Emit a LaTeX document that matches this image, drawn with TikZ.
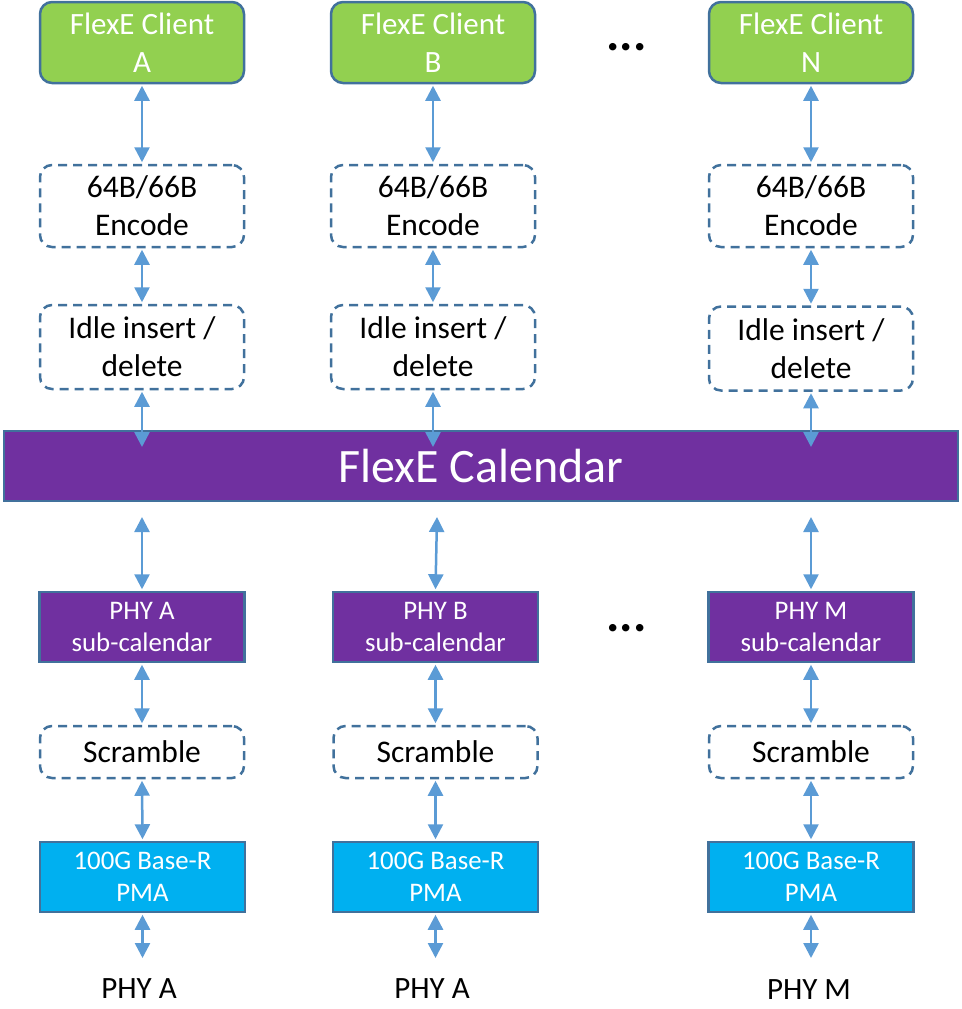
\documentclass[tikz,border=0pt]{standalone}
\usepackage{fontspec}
\setmainfont{Carlito}
\usetikzlibrary{arrows.meta}
\definecolor{cgreen}{HTML}{92D050}
\definecolor{cborder}{HTML}{41719C}
\definecolor{cpurple}{HTML}{7030A0}
\definecolor{ccyan}{HTML}{00B0F0}
\definecolor{carrow}{HTML}{5B9BD5}
\begin{document}
\begin{tikzpicture}[x=1pt,y=-1pt,
  clientbox/.style={draw=cborder,line width=2.5pt,fill=cgreen,rounded corners=12pt,minimum width=204pt,minimum height=81pt,inner sep=0pt,align=center,text=white,font=\fontsize{31}{38}\selectfont},
  dashbox/.style={draw=cborder,line width=2.5pt,dash pattern=on 9pt off 6pt,rounded corners=12pt,minimum width=204pt,inner sep=0pt,align=center,text=black,font=\fontsize{31.5}{38}\selectfont},
  subbox/.style={draw=cborder,line width=2.5pt,fill=cpurple,minimum width=205pt,minimum height=70pt,inner sep=0pt,align=center,text=white,font=\fontsize{26.8}{32}\selectfont},
  pmabox/.style={draw=cborder,line width=2.5pt,fill=ccyan,minimum width=205pt,minimum height=70pt,inner sep=0pt,align=center,text=white,font=\fontsize{26.8}{32}\selectfont},
  calbox/.style={draw=cborder,line width=2.5pt,fill=cpurple,minimum width=954pt,minimum height=70pt,inner sep=0pt,text=white,font=\fontsize{48}{52}\selectfont},
  lbl/.style={inner sep=0pt,text=black,font=\fontsize{31}{38}\selectfont},
  dotsl/.style={inner sep=0pt,text=black,font=\fontsize{50}{50}\selectfont\bfseries},
  biarrow/.style={draw=carrow,line width=2.5pt,{Triangle[width=15pt,length=15pt]}-{Triangle[width=15pt,length=15pt]}}
]
\useasboundingbox (0,0) rectangle (961,1009);

% top row
\node[clientbox] (cA) at (142,42.5) {FlexE Client\\A};
\node[clientbox] (cB) at (433,42.5) {FlexE Client\\B};
\node[clientbox] (cN) at (811,42.5) {FlexE Client\\N};
\node[dotsl] (d1) at (626.5,47) {...};

\node[dashbox,minimum height=82pt] (eA) at (142,206) {64B/66B\\Encode};
\node[dashbox,minimum height=82pt] (eB) at (433,206) {64B/66B\\Encode};
\node[dashbox,minimum height=82pt] (eN) at (811,206) {64B/66B\\Encode};

\node[dashbox,minimum height=84pt] (iA) at (142,347) {Idle insert /\\delete};
\node[dashbox,minimum height=84pt] (iB) at (433,347) {Idle insert /\\delete};
\node[dashbox,minimum height=84pt] (iN) at (811,348.5) {Idle insert /\\delete};

\node[calbox] (cal) at (481,466) {FlexE Calendar};

% bottom row
\node[subbox] (sA) at (142,627) {PHY A\\sub-calendar};
\node[subbox] (sB) at (435.5,627) {PHY B\\sub-calendar};
\node[subbox] (sN) at (811,627) {PHY M\\sub-calendar};
\node[dotsl] (d2) at (626.5,628) {...};

\node[dashbox,minimum height=52pt] (rA) at (142,752) {Scramble};
\node[dashbox,minimum height=52pt] (rB) at (435.5,752) {Scramble};
\node[dashbox,minimum height=52pt] (rN) at (811,752) {Scramble};

\node[pmabox] (pA) at (142.5,877) {100G Base-R\\PMA};
\node[pmabox] (pB) at (435.5,877) {100G Base-R\\PMA};
\node[pmabox] (pN) at (811,877) {100G Base-R\\PMA};

\node[lbl,anchor=base] (oA) at (139,998) {PHY A};
\node[lbl,anchor=base] (oB) at (432,998) {PHY A};
\node[lbl,anchor=base] (oN) at (809,999) {PHY M};

% coordinates
\coordinate (kA) at (142,447);
\coordinate (kB) at (433,447);
\coordinate (kN) at (811,447);
\coordinate (jA) at (142,517);
\coordinate (jB) at (437,517);
\coordinate (jN) at (811,517);
\coordinate (xA) at (142.5,958);
\coordinate (xB) at (435.5,958);
\coordinate (xN) at (811,958);

% arrows
\foreach \c in {A,B,N}{
  \draw[biarrow] ([yshift=-1.5pt]c\c.south) -- ([yshift=1.5pt]e\c.north);
  \draw[biarrow] ([yshift=-1.5pt]e\c.south) -- ([yshift=1.5pt]i\c.north);
  \draw[biarrow] ([yshift=-1.5pt]i\c.south) -- (k\c);
  \draw[biarrow] (j\c) -- ([yshift=1.5pt]s\c.north);
  \draw[biarrow] ([yshift=-1.5pt]s\c.south) -- ([yshift=1.5pt]r\c.north);
  \draw[biarrow] ([yshift=-1.5pt]r\c.south) -- ([yshift=1.5pt]p\c.north);
  \draw[biarrow] ([yshift=-1.5pt]p\c.south) -- (x\c);
}
\end{tikzpicture}
\end{document}
